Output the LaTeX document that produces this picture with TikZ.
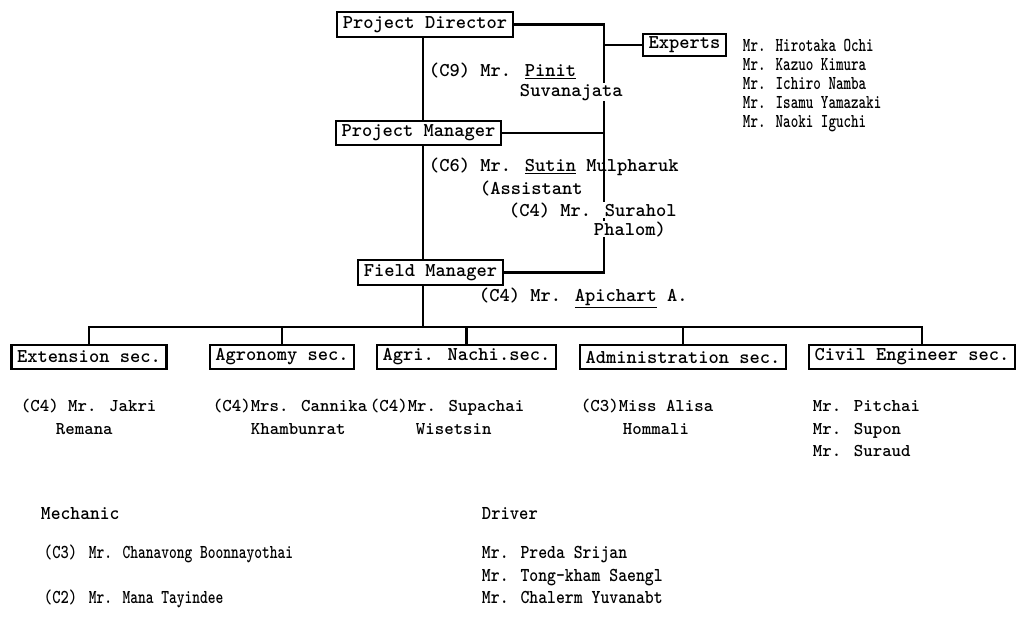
\documentclass[tikz,border=0pt]{standalone}
\usepackage{tikz}
\usepackage{graphicx}
\usetikzlibrary{positioning}

\newcommand{\narrow}[2][0.8]{\scalebox{#1}[1]{#2}}

\tikzset{
  unitbox/.style={draw, line width=1.5pt, inner xsep=4pt, inner ysep=2pt, minimum height=0.62cm},
  link/.style={line width=1.5pt},
  note/.style={anchor=base west, inner sep=0.5pt},
  blank/.style={note, fill=white},
  member/.style={note, font=\ttfamily\bfseries\fontsize{12.8pt}{15pt}\selectfont},
  expert/.style={note, font=\ttfamily\bfseries\fontsize{14pt}{16pt}\selectfont},
  staff/.style={note, font=\ttfamily\bfseries\fontsize{14pt}{16pt}\selectfont},
}

\begin{document}
\begin{tikzpicture}[x=0.025cm, y=-0.025cm, font=\ttfamily\bfseries\fontsize{13.9pt}{16pt}\selectfont]
    \useasboundingbox (0,0) rectangle (1019,640);

    % --- boxes of the chart ---
    \node[unitbox] (pd) at (425,24.5) {Project Director};
    \node[unitbox] (pm) at (418.5,133) {Project Manager};
    \node[unitbox] (fm) at (430.5,272.5) {Field Manager};
    \node[unitbox, minimum height=0.5cm] (exp) at (684.5,45) {Experts};

    \node[unitbox] (ext) at (89,357) {Extension sec.};
    \node[unitbox] (agro) at (282,357) {Agronomy sec.};
    \node[unitbox] (agri) at (466.5,357) {Agri. Nachi.sec.};
    \node[unitbox] (admin) at (683,357) {Administration sec.};
    \node[unitbox] (civil) at (912,357) {Civil Engineer sec.};

    % --- lines ---
    \coordinate (trunk) at (423,0);
    \coordinate (rail) at (604,0);
    \coordinate (bus) at (0,327);

    \draw[link] (trunk |- pd.south) -- (trunk |- pm.north);
    \draw[link] (trunk |- pm.south) -- (trunk |- fm.north);
    \draw[link] (trunk |- fm.south) -- (trunk |- bus);
    \draw[link] (pd.east) -- (pd.east -| rail) -- (rail |- fm.east) -- (fm.east);
    \draw[link] (pm.east) -- (pm.east -| rail);
    \draw[link] (exp.west) -- (exp.west -| rail);
    \draw[link] (ext.north) -- (ext.north |- bus) -- ([xshift=0.25cm]civil.north |- bus) -- ([xshift=0.25cm]civil.north);
    \foreach \sec in {agro, agri, admin}
        \draw[link] (\sec.north) -- (\sec.north |- bus);

    % --- names beside the chain ---
    \node[note] (pinit) at (428,76) {(C9) Mr. \underline{Pinit}};
    \node[blank] (pinit2) at (519,96) {Suvanajata};
    \node[note] (sutin) at (428,171) {(C6) Mr. \underline{Sutin} Mulpharuk};
    \node[note] (assist) at (479,194) {(Assistant};
    \node[blank] (surahol) at (508,216) {(C4) Mr. Surahol};
    \node[blank] (surahol2) at (593,235) {Phalom)};
    \node[note] (apichart) at (478,301) {(C4) Mr. \underline{Apichart} A.};

    \foreach \nm [count=\i from 0] in {Hirotaka Ochi, Kazuo Kimura, Ichiro Namba, Isamu Yamazaki, Naoki Iguchi}
        \node[expert] (e\i) at (742,51+19*\i) {\narrow[0.73]{Mr. \nm}};

    % --- names under the sections ---
    \node[member] (jakri) at (20,411) {(C4) Mr. Jakri};
    \node[member] (jakri2) at (55,434) {Remana};
    \node[member] (cannika) at (212,411) {(C4)Mrs. Cannika};
    \node[member] (cannika2) at (250,434) {Khambunrat};
    \node[member] (supachai) at (369,411) {(C4)Mr. Supachai};
    \node[member] (supachai2) at (415,434) {Wisetsin};
    \node[member] (alisa) at (580,411) {(C3)Miss Alisa};
    \node[member] (alisa2) at (622,434) {Hommali};
    \node[member] (pitchai) at (812,411) {Mr. Pitchai};
    \node[member] (supon) at (812,434) {Mr. Supon};
    \node[member] (suraud) at (812,456) {Mr. Suraud};

    % --- mechanic and driver lists ---
    \node[staff] (mech) at (40,519) {\narrow[0.95]{Mechanic}};
    \node[staff] (mech1) at (43,558) {\narrow[0.8]{(C3)}};
    \node[staff] (mech1n) at (88,558) {\narrow[0.75]{Mr. Chanavong Boonnayothai}};
    \node[staff] (mech2) at (43,603) {\narrow[0.8]{(C2)}};
    \node[staff] (mech2n) at (88,603) {\narrow[0.75]{Mr. Mana Tayindee}};

    \node[staff] (drv) at (481,519) {\narrow[0.9]{Driver}};
    \node[staff] (drv1) at (481,558) {\narrow[0.86]{Mr. Preda Srijan}};
    \node[staff] (drv2) at (481,581) {\narrow[0.86]{Mr. Tong-kham Saengl}};
    \node[staff] (drv3) at (481,603) {\narrow[0.86]{Mr. Chalerm Yuvanabt}};

\end{tikzpicture}
\end{document}
